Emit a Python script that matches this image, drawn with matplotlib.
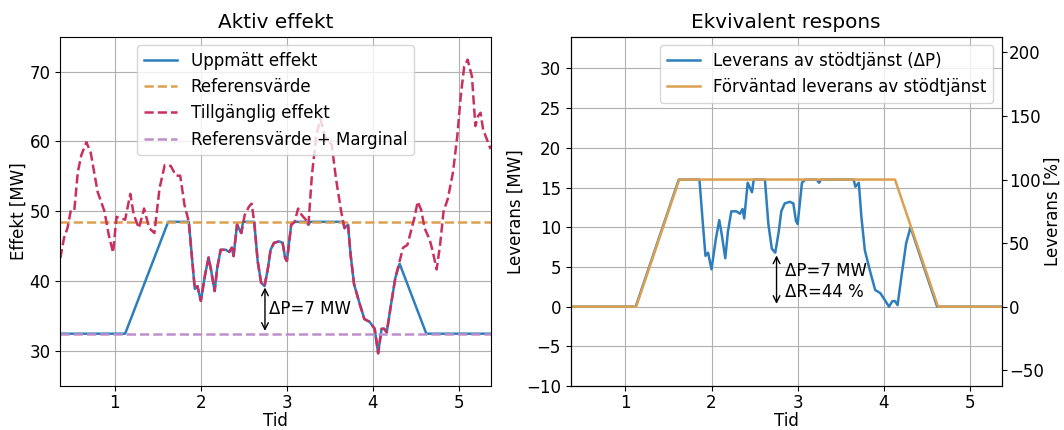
import matplotlib
matplotlib.use('Agg')
import matplotlib.pyplot as plt
import numpy as np

plt.rcParams['font.size'] = 12

# tillgänglig effekt
t_avail = [0.367, 0.41, 0.45, 0.49, 0.53, 0.57, 0.61, 0.67, 0.72, 0.80, 0.88, 0.93, 0.98,
           1.02, 1.07, 1.12, 1.18, 1.22, 1.28, 1.34, 1.40, 1.46, 1.52, 1.58, 1.65, 1.71,
           1.76, 1.81, 1.86, 1.90, 1.93, 1.96, 2.00, 2.05, 2.09, 2.12, 2.16, 2.19, 2.23,
           2.29, 2.33, 2.36, 2.38, 2.42, 2.47, 2.51, 2.56, 2.59, 2.62, 2.66, 2.70, 2.74,
           2.78, 2.81, 2.85, 2.91, 2.95, 2.98, 3.00, 3.05, 3.09, 3.13, 3.17, 3.22, 3.25,
           3.29, 3.34, 3.39, 3.44, 3.47, 3.52, 3.57, 3.63, 3.67, 3.71, 3.74, 3.78, 3.84,
           3.90, 3.96, 4.02, 4.06, 4.10, 4.13, 4.16, 4.21, 4.26, 4.31, 4.35, 4.40, 4.44,
           4.48, 4.52, 4.56, 4.60, 4.66, 4.69, 4.74, 4.78, 4.82, 4.87, 4.93, 4.98, 5.02,
           5.06, 5.10, 5.15, 5.19, 5.22, 5.25, 5.28, 5.367]
p_avail = [43.3, 46.2, 47.6, 50.2, 50.2, 55.6, 58.0, 59.9, 58.4, 52.8, 50.0, 46.6, 44.1,
           49.2, 49.0, 48.8, 52.5, 49.5, 47.6, 50.4, 47.6, 46.9, 53.3, 56.6, 56.5, 55.1,
           55.1, 50.9, 48.5, 42.9, 38.9, 39.3, 37.2, 41.0, 43.4, 41.5, 38.6, 41.9, 44.5,
           44.5, 44.2, 44.8, 43.6, 48.1, 46.9, 49.5, 50.7, 51.1, 48.5, 42.9, 39.8, 39.3,
           41.9, 44.5, 45.5, 45.7, 45.5, 43.3, 42.9, 48.1, 48.5, 50.4, 49.5, 48.8, 48.1,
           55.1, 60.8, 63.2, 60.8, 60.1, 59.6, 54.7, 50.0, 47.6, 48.1, 43.8, 39.6, 37.0,
           34.6, 34.2, 33.2, 29.7, 33.2, 33.2, 32.7, 36.7, 40.5, 42.9, 44.8, 45.2, 47.1,
           49.0, 51.4, 50.2, 47.6, 45.9, 44.5, 41.7, 45.2, 50.0, 51.8, 55.6, 60.8, 66.5,
           70.7, 71.7, 69.3, 62.2, 63.6, 64.1, 61.7, 58.9]

# uppmätt effekt
t_meas = [0.367, 1.12, 1.62, 1.86, 1.90, 1.93, 1.96, 2.00, 2.05, 2.09, 2.12, 2.16, 2.19,
          2.23, 2.29, 2.33, 2.36, 2.38, 2.42, 2.47, 2.49, 2.62, 2.66, 2.70, 2.74, 2.78,
          2.81, 2.85, 2.91, 2.95, 2.98, 3.00, 3.05, 3.09, 3.22, 3.25, 3.27, 3.65, 3.67,
          3.71, 3.74, 3.78, 3.84, 3.90, 3.96, 4.02, 4.06, 4.10, 4.13, 4.16, 4.21, 4.26,
          4.31, 4.62, 5.367]
p_meas = [32.5, 32.5, 48.5, 48.5, 42.9, 38.9, 39.3, 37.2, 41.0, 43.4, 41.5, 38.6, 41.9,
          44.5, 44.5, 44.2, 44.8, 43.6, 48.1, 46.9, 48.5, 48.5, 42.9, 39.8, 39.3, 41.9,
          44.5, 45.5, 45.7, 45.5, 43.3, 42.9, 48.1, 48.5, 48.5, 48.1, 48.5, 48.5, 47.6,
          48.1, 43.8, 39.6, 37.0, 34.6, 34.2, 33.2, 29.7, 33.2, 33.2, 32.7, 36.7, 40.5,
          42.5, 32.5, 32.5]

ref_value = 48.5
ref_margin = 32.5

# förväntad leverans (corner points)
t_exp = [0.367, 1.125, 1.625, 4.13, 4.63, 5.367]
p_exp = [0, 0, 16, 16, 0, 0]

full = 16.0
dp_t = 2.745

c_blue = '#2e7ebc'
c_orange = '#dca050'
c_red = '#c9305f'
c_purple = '#bf8fcc'

fig = plt.figure(figsize=(10.64, 4.3), dpi=100)
ax1 = fig.add_axes([0.0567, 0.102, 0.4044, 0.813])
ax2 = fig.add_axes([0.5365, 0.102, 0.4048, 0.813])

# --- Aktiv effekt
ax1.plot(t_meas, p_meas, color=c_blue, lw=1.8, label='Uppmätt effekt')
ax1.axhline(ref_value, color=c_orange, ls='--', lw=1.8, label='Referensvärde')
ax1.plot(t_avail, p_avail, color=c_red, ls='--', lw=1.8, label='Tillgänglig effekt')
ax1.axhline(ref_margin, color=c_purple, ls='--', lw=1.8, label='Referensvärde + Marginal')
ax1.annotate('', xy=(dp_t, ref_margin), xytext=(dp_t, ref_margin + 7),
             arrowprops=dict(arrowstyle='<->', color='black', lw=1))
ax1.text(dp_t + 0.05, ref_margin + 3.6, 'ΔP=7 MW', va='center', ha='left')
ax1.set_xlim(0.367, 5.367)
ax1.set_ylim(25, 75)
ax1.set_title('Aktiv effekt')
ax1.tick_params(axis='x', pad=2)
ax1.set_xlabel('Tid', labelpad=0)
ax1.set_ylabel('Effekt [MW]', labelpad=1)
ax1.grid(True)
ax1.legend(loc='upper center')

# --- Ekvivalent respons
delivered = np.maximum(np.array(p_meas) - ref_margin, 0)
ax2.plot(t_meas, delivered, color=c_blue, lw=1.8, label='Leverans av stödtjänst (ΔP)')
ax2.plot(t_exp, p_exp, color=c_orange, lw=1.8, label='Förväntad leverans av stödtjänst')
ax2.annotate('', xy=(dp_t + 0.01, 0), xytext=(dp_t + 0.01, 6.8),
             arrowprops=dict(arrowstyle='<->', color='black', lw=1))
ax2.text(dp_t + 0.11, 3.2, 'ΔP=7 MW\nΔR=44 %', va='center', ha='left')
ax2.set_xlim(0.367, 5.367)
ax2.set_ylim(-10, 34)
ax2.set_title('Ekvivalent respons')
ax2.tick_params(axis='x', pad=2)
ax2.set_xlabel('Tid', labelpad=0)
ax2.set_ylabel('Leverans [MW]', labelpad=1)
ax2.grid(True)
ax2.legend(loc='upper right')

ax3 = ax2.twinx()
ax3.set_ylim(-10 / full * 100, 34 / full * 100)
ax3.set_yticks([-50, 0, 50, 100, 150, 200])
ax3.tick_params(axis='y', pad=2)
ax3.set_ylabel('Leverans [%]', labelpad=0)

plt.savefig('out.png', dpi=100)
